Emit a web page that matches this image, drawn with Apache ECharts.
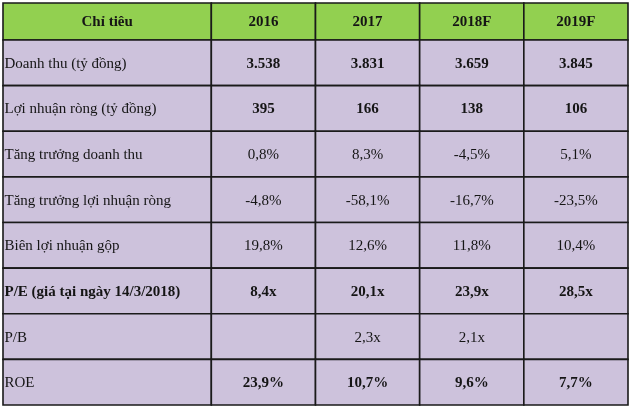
<!DOCTYPE html>
<html><head><meta charset="utf-8">
<script src="https://cdn.jsdelivr.net/npm/echarts@6/dist/echarts.min.js"></script>
<style>html,body{margin:0;padding:0;background:#fff}#c{width:630px;height:407px}</style>
</head><body><div id="c"></div>
<script>
var headerTitle = 'Chỉ tiêu';
var years = ['2016', '2017', '2018F', '2019F'];
var indicators = ['Doanh thu (tỷ đồng)', 'Lợi nhuận ròng (tỷ đồng)', 'Tăng trưởng doanh thu', 'Tăng trưởng lợi nhuận ròng', 'Biên lợi nhuận gộp', 'P/E (giá tại ngày 14/3/2018)', 'P/B', 'ROE'];
var v2016 = ['3.538', '395', '0,8%', '-4,8%', '19,8%', '8,4x', '', '23,9%'];
var v2017 = ['3.831', '166', '8,3%', '-58,1%', '12,6%', '20,1x', '2,3x', '10,7%'];
var v2018F = ['3.659', '138', '-4,5%', '-16,7%', '11,8%', '23,9x', '2,1x', '9,6%'];
var v2019F = ['3.845', '106', '5,1%', '-23,5%', '10,4%', '28,5x', '', '7,7%'];
var boldLabelRows = [5];
var boldValueRows = [0, 1, 5, 7];

var columns = [v2016, v2017, v2018F, v2019F];
var slots = ['a', 'b', 'c', 'd', 'e', 'f'];

var headerData = [{value: [0, 0], text: headerTitle, span: 2, align: 'center', bold: true}];
years.forEach(function (y, i) {
  headerData.push({value: [i + 2, 0], text: y, span: 1, align: 'center', bold: true});
});
var bodyData = [];
indicators.forEach(function (name, r) {
  bodyData.push({value: [0, r], text: name, span: 2, align: 'left', bold: boldLabelRows.indexOf(r) >= 0});
  columns.forEach(function (col, c) {
    bodyData.push({value: [c + 2, r], text: col[r], span: 1, align: 'center', bold: boldValueRows.indexOf(r) >= 0});
  });
});

function makeRender(data, fill, fontSize) {
  return function (params, api) {
    var d = data[params.dataIndex];
    var c0 = api.coord([api.value(0), api.value(1)]);
    var sz = api.size([1, 1]);
    var w = sz[0] * d.span, h = sz[1];
    var x0 = c0[0] - sz[0] / 2, y0 = c0[1] - h / 2;
    var tx = d.align === 'left' ? x0 + 1.5 : x0 + w / 2;
    return {
      type: 'group',
      children: [
        {type: 'rect', shape: {x: x0, y: y0, width: w, height: h},
          style: {fill: fill, stroke: '#1a1a1a', lineWidth: 1.6}},
        {type: 'text', style: {x: tx, y: c0[1] + 1, text: d.text, align: d.align, verticalAlign: 'middle',
          fill: '#151515', fontFamily: 'Liberation Serif', fontSize: fontSize,
          fontWeight: d.bold ? 'bold' : 'normal'}}
      ]
    };
  };
}

var chart = echarts.init(document.getElementById('c'));
chart.setOption({
  animation: false,
  grid: [
    {left: 3, right: 2, top: 3, height: 37},
    {left: 3, right: 2, top: 40, height: 365}
  ],
  xAxis: [
    {type: 'category', data: slots, gridIndex: 0, show: false},
    {type: 'category', data: slots, gridIndex: 1, show: false}
  ],
  yAxis: [
    {type: 'category', data: ['h'], gridIndex: 0, show: false, inverse: true},
    {type: 'category', data: indicators, gridIndex: 1, show: false, inverse: true}
  ],
  series: [
    {type: 'custom', xAxisIndex: 0, yAxisIndex: 0, data: headerData, renderItem: makeRender(headerData, '#92d050', 15), clip: false},
    {type: 'custom', xAxisIndex: 1, yAxisIndex: 1, data: bodyData, renderItem: makeRender(bodyData, '#cdc2dc', 15), clip: false}
  ]
});
</script></body></html>
